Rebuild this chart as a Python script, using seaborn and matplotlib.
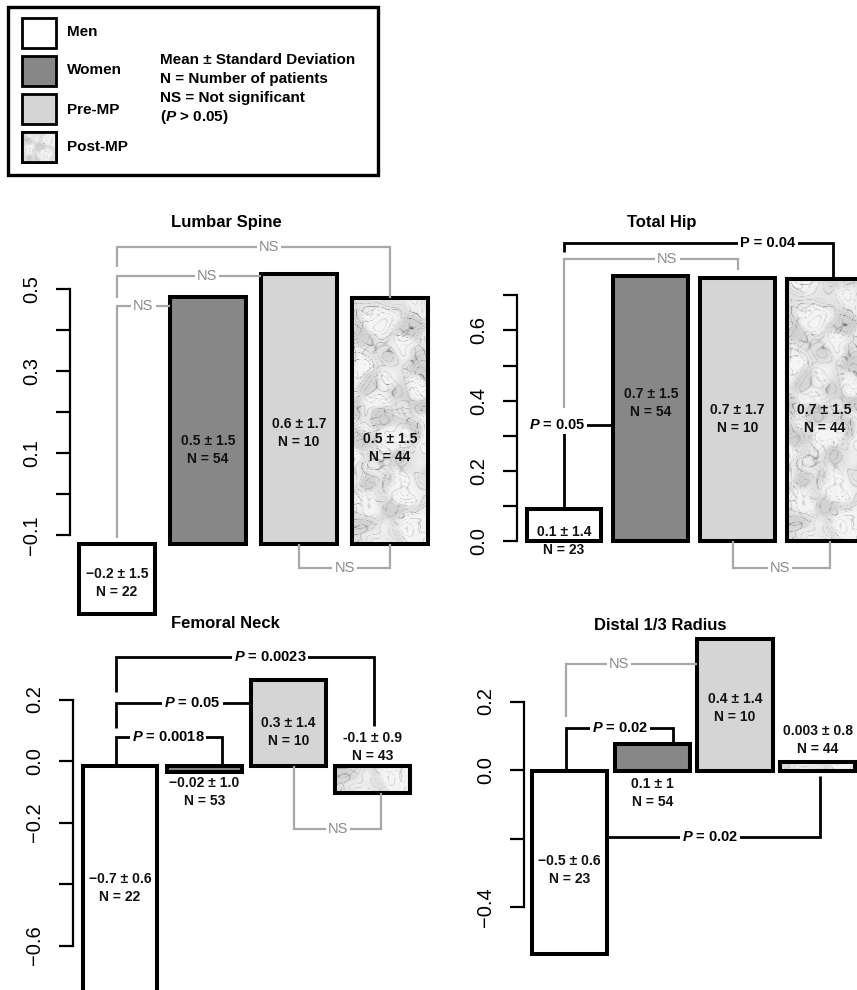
import numpy as np
import pandas as pd
import matplotlib
matplotlib.use("Agg")
import matplotlib.pyplot as plt
from matplotlib.patches import Rectangle
import seaborn as sns

# ---------------- data ----------------
groups = ["Men", "Women", "Pre-MP", "Post-MP"]

# Lumbar Spine: bars hang from a common baseline to these ends
ls_base = -0.122
ls_end = [-0.293, 0.480, 0.537, 0.478]
ls_text = ["\u22120.2 \u00b1 1.5\nN = 22", "0.5 \u00b1 1.5\nN = 54",
           "0.6 \u00b1 1.7\nN = 10", "0.5 \u00b1 1.5\nN = 44"]

# Total Hip
th_base = 0.0
th_end = [0.091, 0.755, 0.749, 0.746]
th_text = ["0.1 \u00b1 1.4\nN = 23", "0.7 \u00b1 1.5\nN = 54",
           "0.7 \u00b1 1.7\nN = 10", "0.7 \u00b1 1.5\nN = 44"]

# Femoral Neck
fn_base = -0.016
fn_end = [-0.80, -0.036, 0.263, -0.104]
fn_text = ["\u22120.7 \u00b1 0.6\nN = 22", "\u22120.02 \u00b1 1.0\nN = 53",
           "0.3 \u00b1 1.4\nN = 10", "-0.1 \u00b1 0.9\nN = 43"]

# Distal 1/3 Radius
dr_base = -0.004
dr_end = [-0.537, 0.076, 0.383, 0.023]
dr_text = ["\u22120.5 \u00b1 0.6\nN = 23", "0.1 \u00b1 1\nN = 54",
           "0.4 \u00b1 1.4\nN = 10", "0.003 \u00b1 0.8\nN = 44"]

legend_notes = ["Mean \u00b1 Standard Deviation", "N = Number of patients",
                "NS = Not significant", "($P$ > 0.05)"]

# ---------------- style ----------------
sns.set_style("ticks")
plt.rcParams["font.family"] = ["Liberation Sans", "DejaVu Sans"]
plt.rcParams["mathtext.fontset"] = "custom"
plt.rcParams["mathtext.it"] = "Liberation Sans:italic:bold"
plt.rcParams["mathtext.rm"] = "Liberation Sans:bold"
plt.rcParams["mathtext.bf"] = "Liberation Sans:bold"
plt.rcParams["axes.unicode_minus"] = True
for key in ["text.color", "axes.edgecolor", "xtick.color", "ytick.color",
            "xtick.labelcolor", "ytick.labelcolor", "axes.labelcolor"]:
    plt.rcParams[key] = "black"

palette = {"Men": "#ffffff", "Women": "#878787", "Pre-MP": "#d5d5d5", "Post-MP": "#e8e8e8"}
GRAY_LINE = "#a8a8a8"
GRAY_TEXT = "#8a8a8a"

W, H = 857, 990
fig = plt.figure(figsize=(W / 100, H / 100), dpi=100)
fig.patch.set_facecolor("white")

# marble texture: a fixed sum of waves (a fill style, not data)
_waves = [(3.1, 7.3, 0.4, 1.0), (-5.7, 4.1, 1.9, 0.7), (8.9, -2.3, 2.7, 0.5),
          (1.7, 12.9, 4.2, 0.35), (-11.3, -6.1, 0.9, 0.3), (15.7, 9.7, 3.3, 0.2),
          (-4.3, 19.1, 5.1, 0.18), (23.3, -13.7, 1.3, 0.12)]


def marble(h, w, aspect=3.0):
    yy, xx = np.mgrid[0:aspect:h * 1j, 0:1:w * 1j]
    t = np.zeros_like(xx)
    for fx, fy, ph, amp in _waves:
        t += amp * np.sin(fx * xx + fy * yy + ph)
    u = np.zeros_like(xx)
    for fx, fy, ph, amp in _waves[::-1]:
        u += amp * np.cos(fy * xx - fx * yy + ph)
    vein1 = np.exp(-np.sin(4.0 * t + 2.0 * xx + 1.5 * yy) ** 2 / 0.02)
    vein2 = np.exp(-np.sin(6.0 * u - 1.0 * yy) ** 2 / 0.03)
    cloud = 0.5 + 0.5 * np.tanh(1.5 * t * u)
    img = 0.96 - 0.14 * cloud - 0.33 * vein1 * (0.5 + 0.5 * np.sin(3 * u)) - 0.15 * vein2
    return np.clip(img, 0, 1)


def texture(ax, patch, h=240, w=80, aspect=3.0):
    x0, y0 = patch.get_x(), patch.get_y()
    pw, ph = patch.get_width(), patch.get_height()
    ext = [x0, x0 + pw, min(y0, y0 + ph), max(y0, y0 + ph)]
    im = ax.imshow(marble(h, w, aspect), cmap="gray", vmin=0, vmax=1, extent=ext, aspect="auto",
                   interpolation="bilinear", origin="lower", zorder=patch.get_zorder() + 0.1)
    im.set_clip_path(patch)
    ax.add_patch(Rectangle((x0, y0), pw, ph, fill=False, edgecolor="black",
                           linewidth=patch.get_linewidth(), zorder=patch.get_zorder() + 0.2,
                           clip_on=patch.get_clip_on()))


def draw_panel(p):
    L, R, T, B = p["rect"]
    ax = fig.add_axes([L / W, 1 - B / H, (R - L) / W, (B - T) / H])
    df = pd.DataFrame({"group": groups, "height": np.array(p["ends"]) - p["base"]})
    sns.barplot(data=df, x="group", y="height", hue="group", order=groups, hue_order=groups,
                palette=palette, saturation=1, width=p["width"], errorbar=None, legend=False,
                bottom=p["base"], edgecolor="black", linewidth=2.9, ax=ax, zorder=2)
    bars = list(ax.patches)[:4]
    hpx = abs(bars[3].get_height()) * p["k"]
    texture(ax, bars[3], h=max(20, int(hpx)), w=76, aspect=max(0.15, hpx / 76))
    ax.set_xlim((L - p["c0"]) / p["s"], (R - p["c0"]) / p["s"])
    ax.set_ylim(p["vref"] - (B - p["pref"]) / p["k"], p["vref"] + (p["pref"] - T) / p["k"])
    ax.patch.set_visible(False)
    for s in ["top", "right", "bottom"]:
        ax.spines[s].set_visible(False)
    ax.spines["left"].set_bounds(*p["bounds"])
    ax.spines["left"].set_linewidth(1.6)
    ax.spines["left"].set_color("black")
    ax.set_xticks([])
    ax.set_xlabel("")
    ax.set_ylabel("")
    ax.set_yticks(p["ticks"])
    ax.set_yticklabels(p["ticklabels"], rotation=90, va="center")
    ax.tick_params(axis="y", length=10, width=1.6, pad=11, labelsize=14.5,
                   color="black", labelcolor="black")
    for t, (tx, ty) in zip(p["texts"], p["text_pos"]):
        ax.text(tx, ty, t, ha="center", va="center", fontsize=10, fontweight="bold",
                linespacing=1.3, zorder=6, clip_on=False, color="#111111")
    for (x1, x2, y, e1, e2, lab, lx, kind) in p["brackets"]:
        g = kind == "g"
        ax.plot([x1, x1, x2, x2], [e1, y, y, e2], color=GRAY_LINE if g else "black",
                lw=1.6 if g else 2.0, clip_on=False, zorder=3,
                solid_joinstyle="miter", solid_capstyle="butt")
        ax.text(lx, y, lab, ha="center", va="center", color=GRAY_TEXT if g else "black",
                fontsize=10.5, fontweight="normal" if g else "bold",
                bbox=dict(facecolor="white", edgecolor="none", pad=1.5), zorder=4, clip_on=False)
    fig.text(p["title_px"][0] / W, 1 - p["title_px"][1] / H, p["name"], ha="center", va="center",
             fontsize=12, fontweight="bold")
    return ax


w_ls, w_th, w_fn, w_dr = 0.84, 0.86, 0.89, 0.91

panels = [
    dict(name="Lumbar Spine", base=ls_base, ends=ls_end, texts=ls_text,
         text_pos=[(0, -0.217), (1, 0.107), (2, 0.149), (3, 0.112)],
         rect=(70, 440, 200, 625), c0=117, s=91, pref=289, vref=0.5, k=410, width=w_ls,
         bounds=(-0.1, 0.5), ticks=[-0.1, 0.0, 0.1, 0.2, 0.3, 0.4, 0.5],
         ticklabels=["\u22120.1", "", "0.1", "", "0.3", "", "0.5"],
         brackets=[(0, 3, 0.602, 0.554, ls_end[3], "NS", 1.67, "g"),
                   (0, 2 - w_ls / 2, 0.532, 0.478, 0.532, "NS", 0.99, "g"),
                   (0, 1 - w_ls / 2, 0.459, -0.107, 0.459, "NS", 0.29, "g"),
                   (2, 3, -0.18, ls_base, ls_base, "NS", 2.5, "g")],
         title_px=(226, 222)),
    dict(name="Total Hip", base=th_base, ends=th_end, texts=th_text,
         text_pos=[(0, 0.0), (1, 0.393), (2, 0.348), (3, 0.348)],
         rect=(517, 905, 200, 600), c0=564, s=86.8, pref=541, vref=0.0, k=351, width=w_th,
         bounds=(0.0, 0.7), ticks=[0.0, 0.1, 0.2, 0.3, 0.4, 0.5, 0.6, 0.7],
         ticklabels=["0.0", "", "0.2", "", "0.4", "", "0.6", ""],
         brackets=[(0, 3.1, 0.849, 0.823, th_end[3], "P = 0.04", 2.35, "b"),
                   (0, 2, 0.803, 0.379, 0.772, "NS", 1.19, "g"),
                   (0, 1 - w_th / 2, 0.330, th_end[0], 0.330, "$P$ = 0.05", -0.08, "b"),
                   (1.95, 3.06, -0.077, th_base, th_base, "NS", 2.49, "g")],
         title_px=(662, 222)),
    dict(name="Femoral Neck", base=fn_base, ends=fn_end, texts=fn_text,
         text_pos=[(0, -0.413), (1, -0.101), (2, 0.094), (3, 0.046)],
         rect=(73, 440, 640, 990), c0=120, s=84.2, pref=761, vref=0.0, k=307.5, width=w_fn,
         bounds=(-0.6, 0.2), ticks=[-0.6, -0.4, -0.2, 0.0, 0.2],
         ticklabels=["\u22120.6", "", "\u22120.2", "0.0", "0.2"],
         brackets=[(-0.05, 3.02, 0.338, 0.224, 0.114, "$P$ = 0.0023", 1.78, "b"),
                   (-0.05, 2 - w_fn / 2, 0.189, 0.107, 0.189, "$P$ = 0.05", 0.86, "b"),
                   (-0.05, 1.21, 0.078, fn_base, fn_base, "$P$ = 0.0018", 0.57, "b"),
                   (2.07, 3.1, -0.221, fn_base, fn_end[3], "NS", 2.59, "g")],
         title_px=(225, 623)),
    dict(name="Distal 1/3 Radius", base=dr_base, ends=dr_end, texts=dr_text,
         text_pos=[(0, -0.292), (1, -0.067), (2, 0.181), (3, 0.088)],
         rect=(524, 870, 600, 990), c0=569.5, s=82.7, pref=770, vref=0.0, k=342.5, width=w_dr,
         bounds=(-0.4, 0.2), ticks=[-0.4, -0.2, 0.0, 0.2],
         ticklabels=["\u22120.4", "", "0.0", "0.2"],
         brackets=[(-0.04, 2 - w_dr / 2, 0.309, 0.155, 0.309, "NS", 0.6, "g"),
                   (-0.04, 1.25, 0.123, dr_base, dr_end[1], "$P$ = 0.02", 0.61, "b"),
                   (w_dr / 2, 3.03, -0.196, -0.196, -0.018, "$P$ = 0.02", 1.7, "b")],
         title_px=(660, 626)),
]

for p in panels:
    draw_panel(p)

# ---------------- legend box (overlay in pixel coordinates) ----------------
ov = fig.add_axes([0, 0, 1, 1])
ov.set_xlim(0, W)
ov.set_ylim(H, 0)
ov.axis("off")
ov.add_patch(Rectangle((8, 7), 370, 168, fill=False, edgecolor="black", linewidth=2.4))
sw_y = [18, 56, 94, 132]
lab_y = [32, 70, 110, 147]
for g, yy, ly in zip(groups, sw_y, lab_y):
    r = Rectangle((22, yy), 34, 30, facecolor=palette[g], edgecolor="black", linewidth=2.0, zorder=2)
    ov.add_patch(r)
    if g == "Post-MP":
        texture(ov, r, h=60, w=68, aspect=0.9)
    ov.text(67, ly, g, ha="left", va="center", fontsize=11, fontweight="bold")
for i, t in enumerate(legend_notes):
    ov.text(160, 60 + 19 * i, t, ha="left", va="center", fontsize=11, fontweight="bold")

fig.savefig("out.png", dpi=100, facecolor="white")
